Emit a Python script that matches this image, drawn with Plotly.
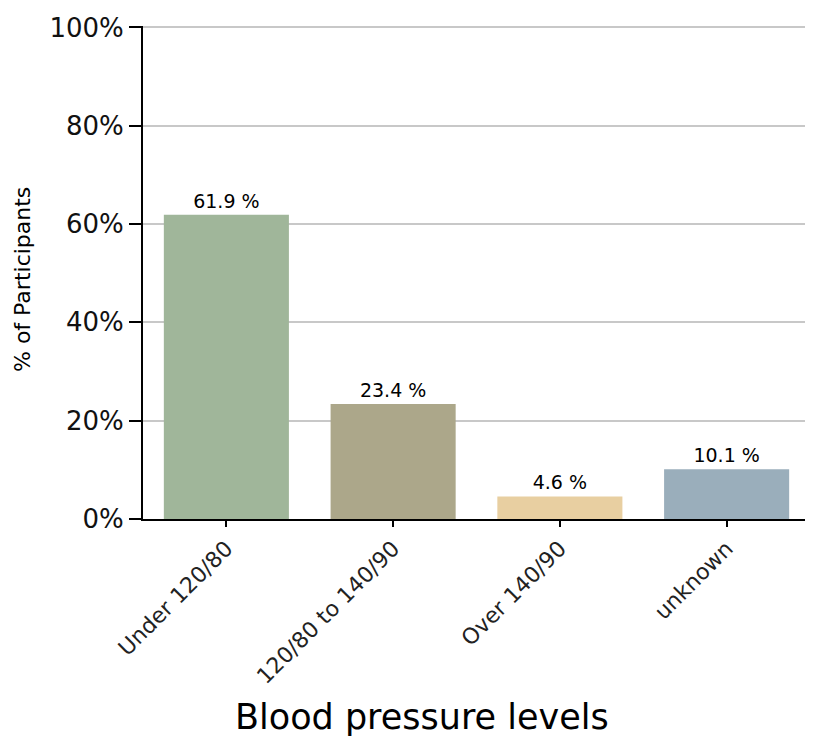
import plotly.graph_objects as go

categories = ["Under 120/80", "120/80 to 140/90", "Over 140/90", "unknown"]
values = [61.9, 23.4, 4.6, 10.1]
labels = ["61.9 %", "23.4 %", "4.6 %", "10.1 %"]
colors = ["#a0b69a", "#aca78a", "#e8cfa1", "#9aaebb"]
y_ticks = [0, 20, 40, 60, 80, 100]
y_tick_labels = ["0%", "20%", "40%", "60%", "80%", "100%"]

FONT = "DejaVu Sans"

fig = go.Figure()
fig.add_trace(go.Bar(
    x=categories, y=values, text=labels, textposition="outside",
    marker=dict(color=colors, line=dict(width=0)),
    textfont=dict(family=FONT, size=19, color="#000"),
    cliponaxis=False,
))

# plot area in page pixels: x 143..810, y 26..519 (page has 8px body margin)
fig.update_layout(
    width=805, height=732,
    margin=dict(l=135, r=3, t=18, b=221),
    plot_bgcolor="white", paper_bgcolor="white",
    bargap=0.25, showlegend=False,
    font=dict(family=FONT, color="#000"),
    xaxis=dict(
        showline=True, linecolor="#000", linewidth=2,
        ticks="outside", ticklen=6, tickcolor="#000", tickwidth=2,
        tickangle=-45, tickfont=dict(size=22, color="#222"),
        showgrid=False,
    ),
    yaxis=dict(
        range=[0, 100.3], tickvals=y_ticks, ticktext=y_tick_labels,
        showline=True, linecolor="#000", linewidth=2,
        ticks="outside", ticklen=12, tickcolor="#000", tickwidth=2,
        tickfont=dict(size=26, color="#111"),
        showgrid=True, gridcolor="#c8c8c8", gridwidth=2,
        zeroline=False,
    ),
    annotations=[
        dict(text="% of Participants", textangle=-90, xref="paper", yref="paper",
             x=(22 - 143) / 667, y=(519 - 280) / 493, xanchor="center", yanchor="middle",
             showarrow=False, font=dict(size=22, color="#000")),
        dict(text="Blood pressure levels", xref="paper", yref="paper",
             x=(422 - 143) / 667, y=-(717 - 519) / 493, xanchor="center", yanchor="middle",
             showarrow=False, font=dict(size=35, color="#000")),
    ],
)

fig.write_html("out.html")
